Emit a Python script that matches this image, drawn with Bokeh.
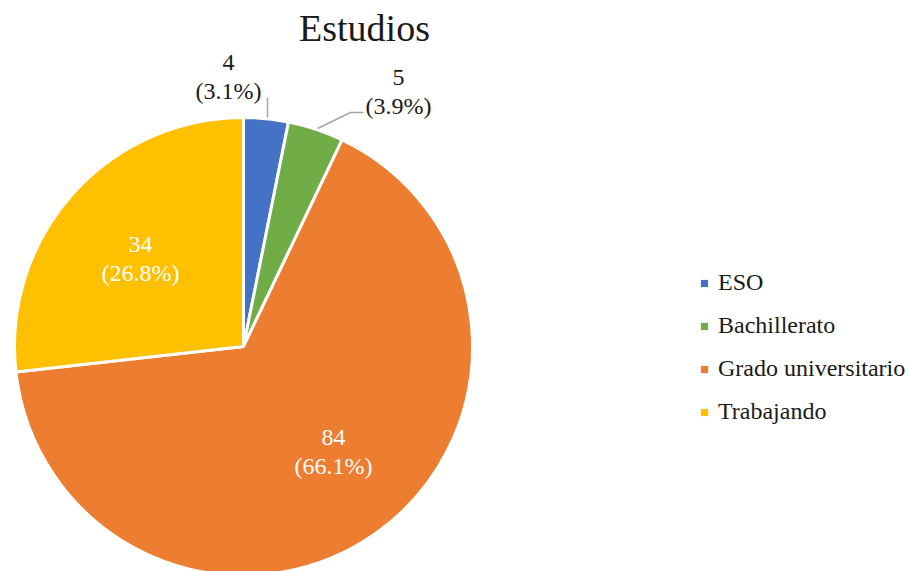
import math
from bokeh.plotting import figure
from bokeh.models import ColumnDataSource, Range1d, Legend, LegendItem
from bokeh.core.properties import value
from bokeh.embed import file_html
from bokeh.resources import INLINE

# ---- data ----
categories = ["ESO", "Bachillerato", "Grado universitario", "Trabajando"]
counts = [4, 5, 84, 34]
colors = ["#4472C4", "#70AD47", "#ED7D31", "#FFC000"]
title_text = "Estudios"

W, H = 909, 571
FONT = "Liberation Serif"

def sx(x):
    return x

def sy(y):
    return H - y

total = sum(counts)
pcts = [c / total * 100 for c in counts]
starts, ends = [], []
a = math.pi / 2
for c in counts:
    span = c / total * 2 * math.pi
    starts.append(a - span)
    ends.append(a)
    a -= span

cx, cy, R = sx(243), sy(346), 229

p = figure(width=W, height=H, output_backend="svg", toolbar_location=None,
           x_range=Range1d(0, W), y_range=Range1d(0, H), min_border=0)
p.axis.visible = False
p.grid.visible = False
p.outline_line_color = None
p.background_fill_color = "white"
p.border_fill_color = "white"

src = ColumnDataSource(dict(cat=categories, start=starts, end=ends, color=colors))
p.wedge(x=cx, y=cy, radius=R, start_angle="start", end_angle="end",
        fill_color="color", line_color="white", line_width=3, source=src)

# legend proxy markers (off-canvas)
leg_src = ColumnDataSource(dict(x=[-100] * 4, y=[-100] * 4, color=colors))
lr = p.scatter(x="x", y="y", marker="square", size=8, fill_color="color",
               line_color=None, source=leg_src)

# leader lines
grey = "#A6A6A6"
p.line([sx(267), sx(267)], [sy(117), sy(97)], line_color=grey, line_width=1.5)
p.line([sx(317), sx(350), sx(363)], [sy(128), sy(112), sy(112)], line_color=grey, line_width=1.5)

# data labels (layout positions in screen pixels)
label_pos = [(228, 76), (398, 91), (333, 451), (140, 258)]
label_col = ["#1a1a1a", "#1a1a1a", "white", "white"]
lab_text = [f"{c}\n({pc:.1f}%)" for c, pc in zip(counts, pcts)]
p.text(x=[sx(x) for x, _ in label_pos], y=[sy(y) for _, y in label_pos], text=lab_text,
       text_color=label_col, text_font=value(FONT), text_font_size="24px",
       text_align="center", text_baseline="middle", text_line_height=1.15)

# title
p.text(x=[sx(364)], y=[sy(27)], text=[title_text], text_font=value(FONT),
       text_font_size="38px", text_color="#1a1a1a", text_align="center",
       text_baseline="middle")

items = [LegendItem(label=c, renderers=[lr], index=i) for i, c in enumerate(categories)]
legend = Legend(items=items, orientation="vertical",
                label_text_font=FONT, label_text_font_size="24px", label_text_color="#1a1a1a",
                glyph_width=18, glyph_height=18, label_standoff=5, spacing=16, padding=0,
                margin=0, border_line_color=None, background_fill_alpha=0)
legend.location = (sx(695), sy(425))
p.add_layout(legend)

open("out.html", "w").write(file_html(p, INLINE))
